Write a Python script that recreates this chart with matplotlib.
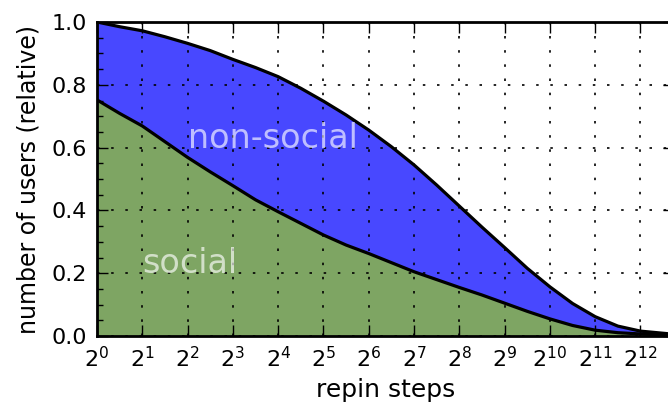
#Fraction of users still active after a given number of repin steps
import numpy as np
import matplotlib.pyplot as plt
from matplotlib.ticker import MultipleLocator

# Data (x given as powers of two)
exps = [0, 0.5, 1, 1.5, 2, 2.5, 3, 3.5, 4, 4.5, 5, 5.5, 6, 6.5, 7, 7.5,
        8, 8.5, 9, 9.5, 10, 10.5, 11, 11.5, 12, 12.74]
non_social = [1.0, 0.985, 0.972, 0.953, 0.932, 0.909, 0.881, 0.855, 0.826, 0.789,
              0.748, 0.704, 0.656, 0.603, 0.545, 0.481, 0.414, 0.347, 0.282, 0.216,
              0.157, 0.104, 0.062, 0.032, 0.016, 0.006]
social = [0.752, 0.709, 0.669, 0.619, 0.569, 0.523, 0.479, 0.434, 0.396, 0.359,
          0.322, 0.29, 0.263, 0.234, 0.205, 0.18, 0.155, 0.131, 0.105, 0.079,
          0.055, 0.034, 0.019, 0.011, 0.007, 0.003]
tick_exps = list(range(0, 13))

steps = 2.0 ** np.array(exps)
blue = '#4848ff'
green = '#7ea563'

fig = plt.figure(figsize=(6.68, 4.15), dpi=100)
ax = fig.add_axes([0.1452, 0.19, 0.8638, 0.757])

ax.fill_between(steps, 0, social, color=green, lw=0)
ax.fill_between(steps, social, non_social, color=blue, lw=0)
ax.plot(steps, social, color='black', lw=2.3)
ax.plot(steps, non_social, color='black', lw=2.3)

ax.set_xscale('log', base=2)
ax.set_xlim(1, steps[-1])
ax.set_ylim(0, 1)
ax.set_xticks([2**e for e in tick_exps])
ax.set_xticklabels([r'$2^{%d}$' % e for e in tick_exps])
ax.xaxis.set_minor_locator(plt.NullLocator())
ax.yaxis.set_major_locator(MultipleLocator(0.2))
ax.yaxis.set_minor_locator(MultipleLocator(0.05))

ax.tick_params(which='both', direction='in', top=True, right=True, labelsize=16, width=1, colors='black')
ax.tick_params(which='major', length=8, pad=7)
ax.tick_params(which='minor', length=4)
for s in ax.spines.values():
    s.set_linewidth(2)

ax.grid(True, which='major', color='black', linestyle=(0, (1.5, 7)), linewidth=1.2)
ax.set_axisbelow(False)

ax.text(4, 0.6, 'non-social', fontsize=24, color='white', alpha=0.65, ha='left', va='baseline')
ax.text(2, 0.2, 'social', fontsize=24, color='white', alpha=0.65, ha='left', va='baseline')

ax.set_xlabel('repin steps', fontsize=18, labelpad=5)
ax.set_ylabel('number of users (relative)', fontsize=17, labelpad=8)

plt.savefig('out.png', dpi=100)
